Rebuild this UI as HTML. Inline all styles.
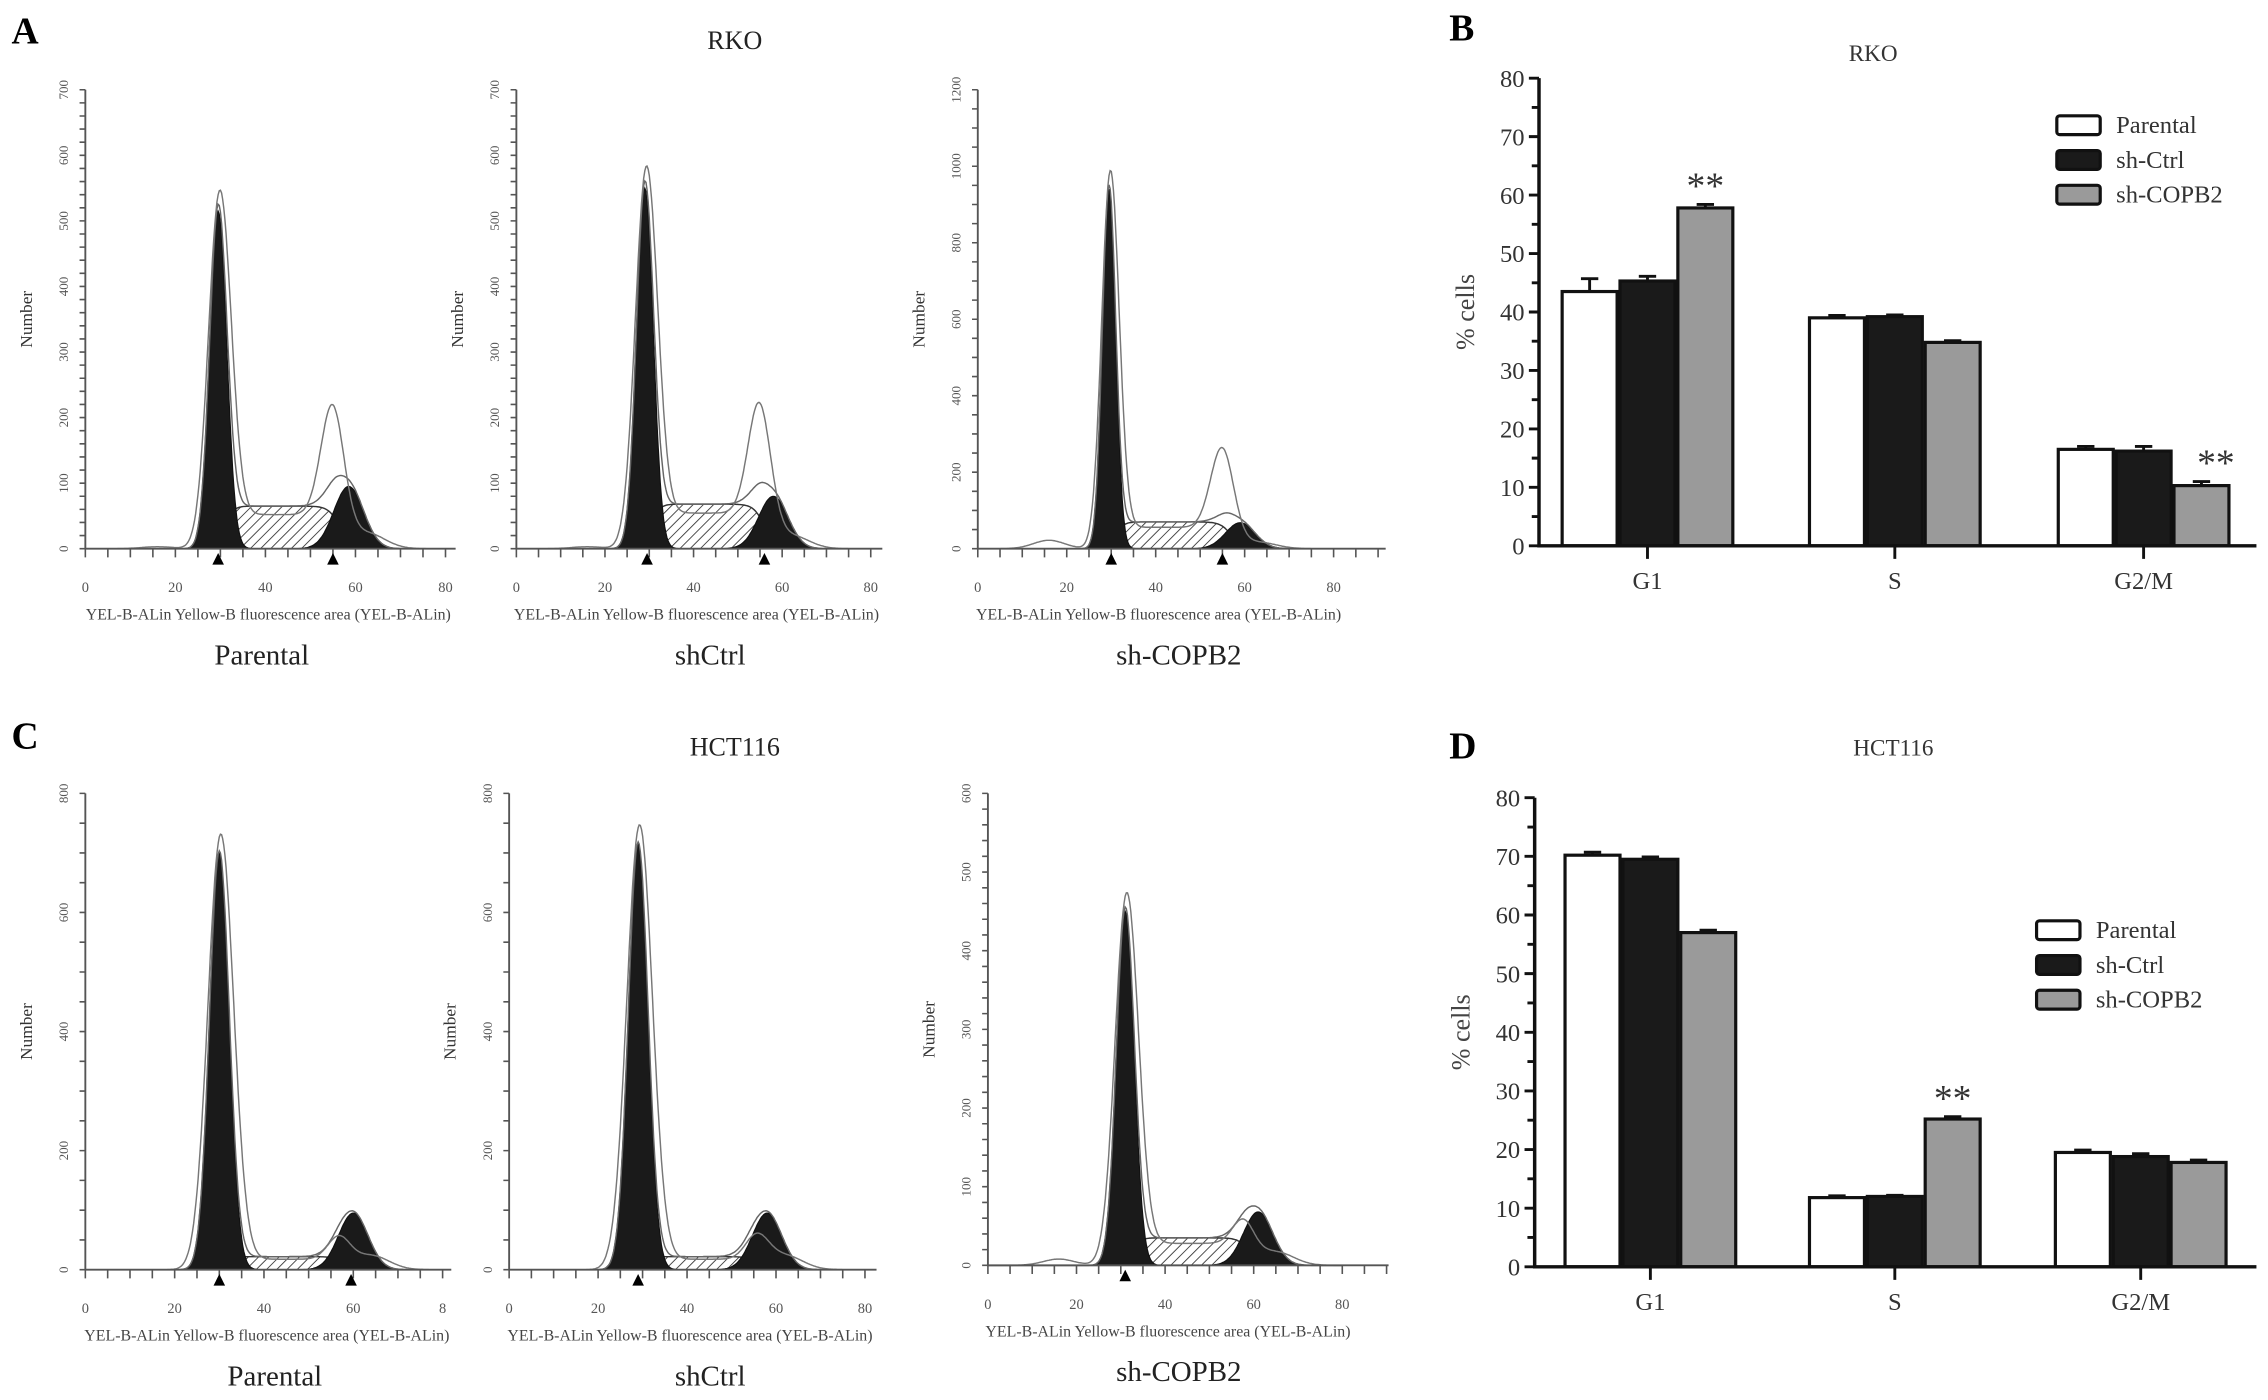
<!DOCTYPE html>
<html><head><meta charset="utf-8"><style>
html,body{margin:0;padding:0;background:#fff;}
svg{display:block;}
text{font-family:"Liberation Serif",serif;}
</style></head><body>
<svg id="fig" width="2268" height="1400" viewBox="0 0 1568 967" preserveAspectRatio="none" xmlns="http://www.w3.org/2000/svg">
<defs>
<pattern id="hatch" patternUnits="userSpaceOnUse" width="5" height="5" patternTransform="rotate(45)">
<rect width="5" height="5" fill="#fff"/><line x1="0" y1="0" x2="0" y2="5" stroke="#333" stroke-width="1.2"/>
</pattern>
</defs>
<g font-weight="bold" font-size="26">
<text x="8" y="30">A</text>
<text x="1002" y="28">B</text>
<text x="8" y="517">C</text>
<text x="1002" y="524">D</text>
</g>
<text x="508" y="34" font-size="18" text-anchor="middle" fill="#222">RKO</text>
<text x="508" y="522" font-size="18" text-anchor="middle" fill="#222">HCT116</text>
<g id="hists"></g>
<g id="bars"></g>
</svg>
<script>
// ---- Histogram data (model parameters) ----
const histNames = ["Parental","shCtrl","sh-COPB2","Parental","shCtrl","sh-COPB2"];
const histYMax = [700,700,1200,800,800,600];
const histYLabelStep = [100,100,200,200,200,100];
const histYMinorStep = [20,20,50,50,50,20];
const histG1Mean = [29.5,29,29.5,30,29,31];
const histG1Height = [515,550,940,700,715,450];
const histG1Width = [1.9,1.9,1.5,2.2,2.2,2.0];
const histG2Mean = [58.5,58,59,60,58,61];
const histG2Height = [95,80,68,95,95,68];
const histSLevel = [65,68,70,22,22,35];
const histRawPeakPos = [55,55,55,57,56,58];
const histRawPeakHeight = [175,180,215,40,45,35];
const histDebrisHeight = [3,3,22,0,0,8];
const histMarkers = [[29.5,55],[29.5,56],[30,55],[30,59.5],[29],[31]];
// ---- Bar chart data ----
const barCategories = ["G1","S","G2/M"];
const seriesNames = ["Parental","sh-Ctrl","sh-COPB2"];
const rkoParental = [43.5,39,16.5];
const rkoShCtrl = [45.3,39.2,16.2];
const rkoShCOPB2 = [57.8,34.8,10.3];
const rkoErrParental = [2.2,0.4,0.5];
const rkoErrShCtrl = [0.8,0.3,0.8];
const rkoErrShCOPB2 = [0.6,0.3,0.7];
const hctParental = [70.2,11.8,19.5];
const hctShCtrl = [69.5,12,18.8];
const hctShCOPB2 = [57,25.2,17.8];
const hctErrParental = [0.5,0.3,0.4];
const hctErrShCtrl = [0.4,0.2,0.5];
const hctErrShCOPB2 = [0.4,0.4,0.4];
const rkoSig = [[0,2],[2,2]];
const hctSig = [[1,2]];
const barTicks = [0,10,20,30,40,50,60,70,80];

const NS="http://www.w3.org/2000/svg";
function mk(tag,attrs,parent,txt){const e=document.createElementNS(NS,tag);for(const k in attrs)e.setAttribute(k,attrs[k]);if(txt!==undefined)e.textContent=txt;parent.appendChild(e);return e;}
const gauss=(x,m,h,s)=>h*Math.exp(-0.5*((x-m)/s)**2);
const sig=(x)=>1/(1+Math.exp(-x));

const histLayout=[
 {ax:59,base:379,top:62,x80:308,end:315,lab:181},
 {ax:357,base:379,top:62,x80:602,end:610,lab:491},
 {ax:676,base:379,top:62,x80:922,end:958,lab:815},
 {ax:59,base:877,top:548,x80:306,end:312,lab:190},
 {ax:352,base:877,top:548,x80:598,end:606,lab:491},
 {ax:683,base:874,top:548,x80:928,end:960,lab:815}];
const hroot=document.getElementById('hists');
histNames.forEach((nm,i)=>{
 const L=histLayout[i];
 const g=mk('g',{},hroot);
 
 
 const X=v=>L.ax+(L.x80-L.ax)*v/80;
 const Y=v=>L.base-(L.base-L.top)*v/histYMax[i];
 const s1=histG1Width[i], s2=3.3;
 const m1=histG1Mean[i],m2=histG2Mean[i];
 const S=x=>histSLevel[i]*sig((x-(m1+1.5))/0.9)*sig(((m2-2)-x)/1.2);
 const xs=[];for(let x=0;x<=80;x+=0.25)xs.push(x);
 const ptsOf=f=>xs.map(x=>X(x).toFixed(1)+','+Y(f(x)).toFixed(1));
 const sp=mk('polygon',{points:[X(0)+','+Y(0)].concat(ptsOf(S),[X(80)+','+Y(0)]).join(' '),fill:'url(#hatch)',stroke:'#333','stroke-width':1},g);
 
 [[m1,histG1Height[i],s1,'g1-peak'],[m2,histG2Height[i],s2,'g2-peak']].forEach(([m,h,s,n])=>{
  const p=mk('polygon',{points:[X(0)+','+Y(0)].concat(ptsOf(x=>gauss(x,m,h,s)),[X(80)+','+Y(0)]).join(' '),fill:'#1a1a1a',stroke:'#111','stroke-width':0.8},g);
  
 });
 const fit=x=>gauss(x,m1,histG1Height[i],s1)+gauss(x,m2,histG2Height[i],s2)+S(x);
 const f1=mk('polyline',{points:ptsOf(fit).join(' '),fill:'none',stroke:'#666','stroke-width':1},g);
 
 const raw=x=>gauss(x,m1+0.3,histG1Height[i]*1.04,s1*1.3)+gauss(x,histRawPeakPos[i],histRawPeakHeight[i],2.6)+0.8*S(x)+gauss(x,16,histDebrisHeight[i],3.5)+gauss(x,m2+4,histG2Height[i]*0.25,4);
 const f2=mk('polyline',{points:ptsOf(raw).join(' '),fill:'none',stroke:'#777','stroke-width':1},g);
 
 const ax=mk('path',{d:`M${L.ax},${L.top}V${L.base}H${L.end}`,fill:'none',stroke:'#555','stroke-width':1.3},g);
 
 let d='';
 for(let v=0;v<=histYMax[i];v+=histYMinorStep[i]){d+=`M${L.ax-4},${Y(v)}H${L.ax}`;}
 for(let v=0;v<=100;v+=5){if(X(v)<=L.end+0.5)d+=`M${X(v)},${L.base}v6`;}
 const tk=mk('path',{d:d,stroke:'#555','stroke-width':1.1},g);
 
 for(let v=0;v<=histYMax[i];v+=histYLabelStep[i]){
  const t=mk('text',{x:L.ax-12,y:Y(v),'font-size':9,'font-family':'Liberation Sans, sans-serif',fill:'#555','text-anchor':'middle',transform:`rotate(-90 ${L.ax-12} ${Y(v)})`},g,String(v));
  
 }
 for(let v=0;v<=80;v+=20){
  const t=mk('text',{x:X(v),y:L.base+30,'font-size':10,'font-family':'Liberation Sans, sans-serif',fill:'#555','text-anchor':'middle'},g,(i===3&&v===80)?'8':String(v));
  
 }
 histMarkers[i].forEach(m=>{
  const tr=mk('polygon',{points:`${X(m)},${L.base+3} ${X(m)-4},${L.base+11} ${X(m)+4},${L.base+11}`,fill:'#000'},g);
  
 });
 const yt=mk('text',{x:L.ax-37,y:(L.base+L.top)/2,'font-size':12,fill:'#333','text-anchor':'middle',transform:`rotate(-90 ${L.ax-37} ${(L.base+L.top)/2})`},g,'Number');
 
 const xt=mk('text',{x:(L.ax+L.x80)/2+2,y:L.base+49,'font-size':11,fill:'#444','text-anchor':'middle'},g,'YEL-B-ALin Yellow-B fluorescence area (YEL-B-ALin)');
 
 const lb=mk('text',{x:L.lab,y:L.base+80,'font-size':20,fill:'#222','text-anchor':'middle'},g,nm);
 
});

const broot=document.getElementById('bars');
function barChart(cfg){
 const g=mk('g',{},broot);
 
 
 const Y=v=>cfg.base-(cfg.base-cfg.top)*v/80;
 const fills=['#fff','#1a1a1a','#9a9a9a'];
 const bw=40;
 cfg.series.forEach((ser,si)=>{
  ser.forEach((v,ci)=>{
   const cx=cfg.cats[ci];
   const x0=cx-1.5*bw+si*bw;
   const e=cfg.errs[si][ci];
   const eb=mk('path',{d:`M${x0+bw/2},${Y(v)}V${Y(v+e)}M${x0+bw/2-6},${Y(v+e)}h12`,stroke:'#111','stroke-width':2,fill:'none'},g);
   
   const r=mk('rect',{x:x0+1,y:Y(v),width:bw-2,height:Y(0)-Y(v),fill:fills[si],stroke:'#111','stroke-width':2.2},g);
   
   
  });
 });
 cfg.sig.forEach(([ci,si])=>{
  const x0=cfg.cats[ci]-1.5*bw+si*bw+bw/2+(ci===2&&cfg.name==='bar-chart-rko'?10:0);
  const v=cfg.series[si][ci]+cfg.errs[si][ci];
  const t=mk('text',{x:x0,y:Y(v)-4,'font-size':26,fill:'#333','text-anchor':'middle'},g,'**');
  
 });
 const ax=mk('path',{d:`M${cfg.ax},${cfg.top}V${cfg.base}H${cfg.end}`,fill:'none',stroke:'#111','stroke-width':2.4},g);
 
 let d='';
 for(let v=0;v<=80;v+=5){d+=`M${cfg.ax-(v%10===0?7:5)},${Y(v)}H${cfg.ax}`;}
 cfg.cats.forEach(c=>{d+=`M${c},${cfg.base}v9`;});
 const tk=mk('path',{d:d,stroke:'#111','stroke-width':2},g);
 
 barTicks.forEach(v=>{
  const t=mk('text',{x:cfg.ax-10,y:Y(v)+6,'font-size':17,fill:'#333','text-anchor':'end'},g,String(v));
  
 });
 barCategories.forEach((c,ci)=>{
  const t=mk('text',{x:cfg.cats[ci],y:cfg.base+30,'font-size':17,fill:'#333','text-anchor':'middle'},g,c);
  
 });
 const yt=mk('text',{x:cfg.ax-45,y:(cfg.top+cfg.base)/2,'font-size':18,fill:'#444','text-anchor':'middle',transform:`rotate(-90 ${cfg.ax-45} ${(cfg.top+cfg.base)/2})`},g,'% cells');
 
 const tt=mk('text',{x:cfg.titleX,y:cfg.titleY,'font-size':16,fill:'#333','text-anchor':'middle'},g,cfg.title);
 
 seriesNames.forEach((n,si)=>{
  const ly=cfg.legY+si*cfg.legGap;
  const lg=mk('g',{},g);
  
  
  mk('rect',{x:cfg.legX,y:ly-6,width:30,height:13,rx:2,fill:fills[si],stroke:'#111','stroke-width':2.2},lg);
  mk('text',{x:cfg.legX+41,y:ly+6,'font-size':17,fill:'#333'},lg,n);
 });
}
barChart({name:'bar-chart-rko',ax:1064,top:54,base:377,end:1560,cats:[1139,1310,1482],
 series:[rkoParental,rkoShCtrl,rkoShCOPB2],errs:[rkoErrParental,rkoErrShCtrl,rkoErrShCOPB2],sig:rkoSig,
 title:'RKO',titleX:1295,titleY:42,legX:1422,legY:86,legGap:24});
barChart({name:'bar-chart-hct116',ax:1061,top:551,base:875,end:1560,cats:[1141,1310,1480],
 series:[hctParental,hctShCtrl,hctShCOPB2],errs:[hctErrParental,hctErrShCtrl,hctErrShCOPB2],sig:hctSig,
 title:'HCT116',titleX:1309,titleY:522,legX:1408,legY:642,legGap:24});
</script>
</body></html>
